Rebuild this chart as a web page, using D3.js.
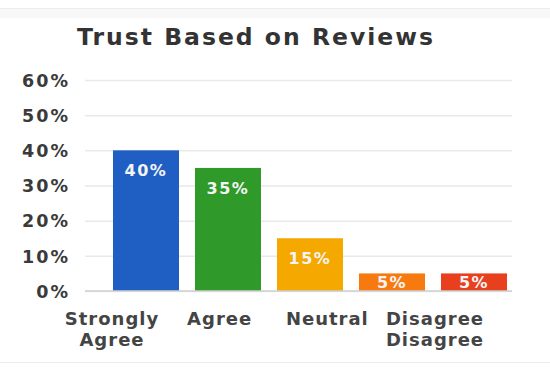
<!DOCTYPE html>
<html>
<head>
<meta charset="utf-8">
<script src="https://cdn.jsdelivr.net/npm/d3@7"></script>
<style>
  html, body { margin: 0; padding: 0; background: #fff; }
  svg { display: block; }
</style>
</head>
<body>
<svg id="chart" width="550" height="373"></svg>
<script>
// Survey answers: share of respondents who trust products based on reviews
const categories = ["Strongly Agree", "Agree", "Neutral", "Disagree", "Strongly Disagree"];
const values = [40, 35, 15, 5, 5];
const barColors = ["#1f5fc4", "#2f9a2a", "#f5a800", "#f77a10", "#e8401e"];
const axisLabels = [["Strongly", "Agree"], ["Agree"], ["Neutral"], ["Disagree", "Disagree"]];
const yTicks = [0, 10, 20, 30, 40, 50, 60];

const svg = d3.select("#chart");
const W = 550, H = 373;
const FONT = "'DejaVu Sans', sans-serif";

// faint frame lines top and bottom
svg.append("rect").attr("x", 0).attr("y", 8).attr("width", W).attr("height", 10)
  .attr("fill", "#f8f8f8");
svg.append("line").attr("x1", 0).attr("x2", W).attr("y1", 8.5).attr("y2", 8.5)
  .attr("stroke", "#ececec");
svg.append("line").attr("x1", 0).attr("x2", W).attr("y1", 362.5).attr("y2", 362.5)
  .attr("stroke", "#ececec");

const x = d3.scaleBand().domain(categories).range([105, 515])
  .paddingInner(0.195).paddingOuter(0.0975);
const y = d3.scaleLinear().domain([0, 60]).range([291, 80]);

// title
svg.append("text")
  .attr("x", 77).attr("y", 45)
  .attr("font-family", FONT).attr("font-weight", "bold")
  .attr("font-size", 23.5).attr("letter-spacing", 2)
  .attr("fill", "#333")
  .text("Trust Based on Reviews");

// y axis with gridlines
const yAxis = d3.axisLeft(y).tickValues(yTicks)
  .tickFormat(d => d + "%").tickSize(-(512 - 85)).tickPadding(15);
const gy = svg.append("g").attr("transform", "translate(85,0)").call(yAxis);
gy.select(".domain").remove();
gy.selectAll(".tick line").attr("stroke", "#e9e9e9").attr("stroke-width", 1.5);
gy.selectAll(".tick text")
  .attr("font-family", FONT).attr("font-weight", "bold")
  .attr("font-size", 17.5).attr("letter-spacing", 2)
  .attr("fill", "#3a3a3a").attr("dy", "0.36em");

// bars
svg.append("g").selectAll("rect").data(categories).join("rect")
  .attr("x", d => x(d))
  .attr("y", (d, i) => y(values[i]))
  .attr("width", x.bandwidth())
  .attr("height", (d, i) => y(0) - y(values[i]))
  .attr("fill", (d, i) => barColors[i]);

// baseline
svg.append("line").attr("x1", 85).attr("x2", 512)
  .attr("y1", y(0)).attr("y2", y(0))
  .attr("stroke", "#cfcfcf").attr("stroke-width", 1.5);

// value labels inside bars
svg.append("g").selectAll("text").data(categories).join("text")
  .attr("x", d => x(d) + x.bandwidth() / 2)
  .attr("y", (d, i) => {
    const top = y(values[i]), h = y(0) - top;
    return top + Math.min(26, h / 2 + 6);
  })
  .attr("text-anchor", "middle")
  .attr("font-family", FONT).attr("font-weight", "bold")
  .attr("font-size", 16).attr("letter-spacing", 1.5)
  .attr("fill", "#f4f4f4")
  .text((d, i) => values[i] + "%");

// category labels under the axis
const xl = d3.scalePoint().domain(d3.range(axisLabels.length)).range([112, 435]);
const lab = svg.append("g").selectAll("text").data(axisLabels).join("text")
  .attr("x", (d, i) => xl(i))
  .attr("y", 325)
  .attr("text-anchor", "middle")
  .attr("font-family", FONT).attr("font-weight", "bold")
  .attr("font-size", 18).attr("letter-spacing", 1)
  .attr("fill", "#444");
lab.selectAll("tspan").data(d => d).join("tspan")
  .attr("x", function () { return d3.select(this.parentNode).attr("x"); })
  .attr("dy", (d, j) => j === 0 ? 0 : 21)
  .text(d => d);
</script>
</body>
</html>
